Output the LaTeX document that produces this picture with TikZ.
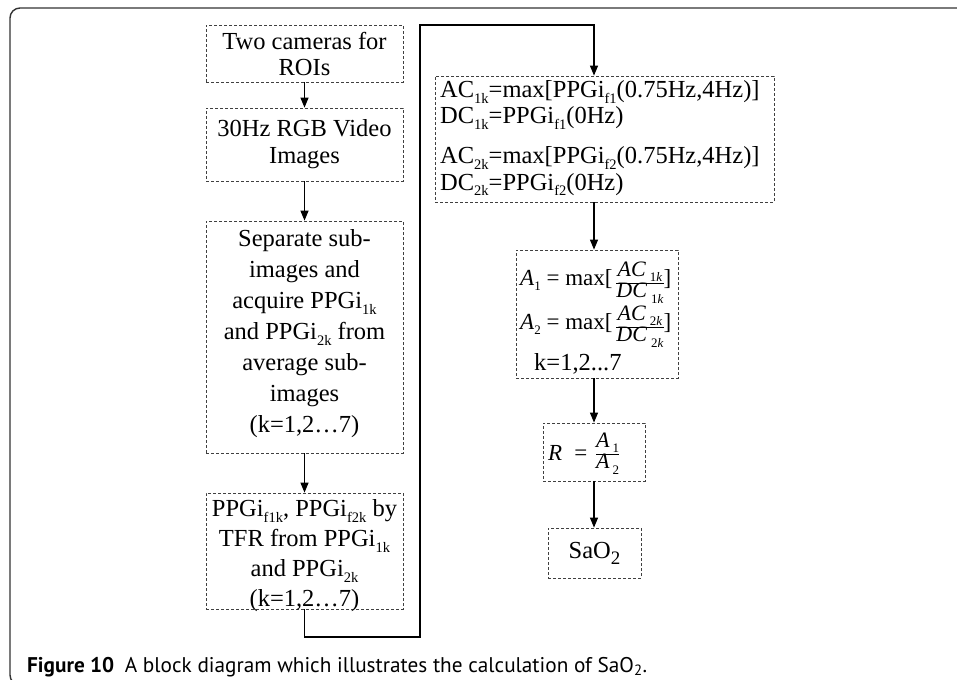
\documentclass[tikz,border=0pt]{standalone}
\usepackage{fontspec}
\setmainfont{Liberation Serif}
\newfontfamily\capfont{PT Sans}
\usetikzlibrary{arrows.meta}
\newcommand\lsub[1]{\raisebox{-0.22em}{\fontsize{14.5pt}{14.5pt}\selectfont #1}}
\newcommand\fsub[1]{\raisebox{-0.25em}{\fontsize{13pt}{13pt}\selectfont #1}}
\newcommand\ffrac[2]{{\renewcommand\arraystretch{0.9}\begin{tabular}[c]{@{}c@{}}{\fontsize{22pt}{22pt}\selectfont #1}\\\hline {\fontsize{22pt}{22pt}\selectfont #2}\end{tabular}}}
\begin{document}
\begin{tikzpicture}[x=1pt,y=-1pt,
  box/.style={draw=black!75, dash pattern=on 3pt off 2pt, line width=0.8pt, inner sep=0pt, align=center},
  conn/.style={line width=1.2pt, -{Triangle[length=10pt,width=8pt]}},
  txt/.style={inner sep=0pt, anchor=base west, font=\fontsize{23pt}{23pt}\selectfont},
  ctxt/.style={inner sep=0pt, align=center},
]
\useasboundingbox (0,0) rectangle (957,679);
\begin{scope}
  \clip (0,0) rectangle (957,679);
  \draw[line width=1.4pt, black!80, rounded corners=10pt] (975,8) -- (10,8) -- (10,685) -- (975,685);
\end{scope}

% left column
\node[box, minimum width=197pt, minimum height=57pt, font=\fontsize{24.5pt}{26pt}\selectfont] (b1) at (304.5,53.5) {Two cameras for\\ROIs};
\node[box, minimum width=197pt, minimum height=73pt, font=\fontsize{24.5pt}{27pt}\selectfont] (b2) at (304.5,144.5) {30Hz RGB Video\\Images};
\node[box, minimum width=197pt, minimum height=232pt] (b3) at (304.5,337) {};
\node[ctxt, font=\fontsize{24.5pt}{31pt}\selectfont] (b3t) at (304.5,334) {Separate sub-\\images and\\acquire PPGi\lsub{1k}\\and PPGi\lsub{2k} from\\average sub-\\images\\(k=1,2…7)};
\node[box, minimum width=197pt, minimum height=116pt] (b4) at (304.5,551) {};
\node[ctxt, font=\fontsize{24.5pt}{30pt}\selectfont] (b4t) at (304.5,556) {PPGi\lsub{f1k}, PPGi\lsub{f2k} by\\TFR from PPGi\lsub{1k}\\and PPGi\lsub{2k}\\(k=1,2…7)};

% right column
\node[box, minimum width=339pt, minimum height=126pt] (b5) at (604.5,139) {};
\node[txt, font=\fontsize{24.5pt}{24.5pt}\selectfont] (l1) at (440,98) {AC\lsub{1k}=max[PPGi\lsub{f1}(0.75Hz,4Hz)]};
\node[txt, font=\fontsize{24.5pt}{24.5pt}\selectfont] (l2) at (440,124) {DC\lsub{1k}=PPGi\lsub{f1}(0Hz)};
\node[txt, font=\fontsize{24.5pt}{24.5pt}\selectfont] (l3) at (440,164) {AC\lsub{2k}=max[PPGi\lsub{f2}(0.75Hz,4Hz)]};
\node[txt, font=\fontsize{24.5pt}{24.5pt}\selectfont] (l4) at (440,190) {DC\lsub{2k}=PPGi\lsub{f2}(0Hz)};

\node[box, minimum width=162pt, minimum height=128pt] (b6) at (597,314) {};
\node[txt] (r1) at (520,285) {\textit{A}\fsub{1} = max[\,\raisebox{-4pt}{\ffrac{\textit{AC}\hspace{4pt}\fsub{1\textit{k}}}{\textit{DC}\hspace{4pt}\fsub{1\textit{k}}}}]};
\node[txt] (r2) at (520,329) {\textit{A}\fsub{2} = max[\,\raisebox{-4pt}{\ffrac{\textit{AC}\hspace{4pt}\fsub{2\textit{k}}}{\textit{DC}\hspace{4pt}\fsub{2\textit{k}}}}]};
\node[txt, font=\fontsize{24.5pt}{24.5pt}\selectfont] (r3) at (534,370) {k=1,2...7};

\node[box, minimum width=102pt, minimum height=58pt] (b7) at (594,452) {};
\node[txt] (r4) at (548,460) {\textit{R}\hspace{12pt}=\hspace{9pt}\ffrac{\textit{A}\hspace{3pt}\fsub{1}}{\textit{A}\hspace{3pt}\fsub{2}}};

\node[box, minimum width=93pt, minimum height=50pt, font=\fontsize{24.5pt}{29pt}\selectfont] (b8) at (594.5,553) {SaO\raisebox{-0.25em}{\fontsize{19pt}{19pt}\selectfont 2}};

% connectors
\draw[conn] (b1) -- (b2);
\draw[conn] (b2) -- (b3);
\draw[conn] (b3) -- (b4);
\coordinate (t1) at (420,637);
\coordinate (t2) at (420,25);
\coordinate (rc) at (594,25);
\draw[conn] (b4.south) |- (t1) -- (t2) -- (rc) -- (rc |- b5.north);
\draw[conn] (b5.south -| rc) -- (b6.north -| rc);
\draw[conn] (b6.south -| rc) -- (b7.north -| rc);
\draw[conn] (b7.south -| rc) -- (b8.north -| rc);

% caption
\node[anchor=base west, inner sep=0pt, font=\capfont\fontsize{18pt}{18pt}\selectfont] (cap) at (27,672) {\resizebox{620pt}{!}{\textbf{Figure 10}\hspace{0.5em}A block diagram which illustrates the calculation of SaO\textsubscript{2}.}};
\end{tikzpicture}
\end{document}
